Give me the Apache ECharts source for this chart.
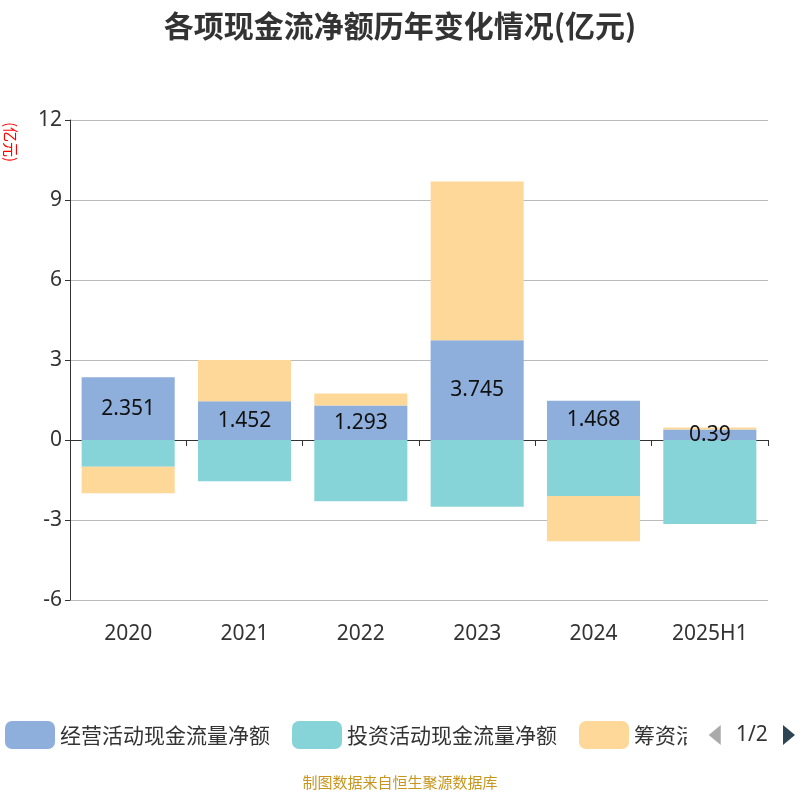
<!DOCTYPE html>
<html><head><meta charset="utf-8">
<script src="https://cdn.jsdelivr.net/npm/echarts@6/dist/echarts.min.js"></script>
<style>html,body{margin:0;padding:0}#c{width:800px;height:800px}</style>
</head><body><div id="c"></div>
<script>
var categories = ['2020','2021','2022','2023','2024','2025H1'];
var operating = [2.351, 1.452, 1.293, 3.745, 1.468, 0.39];
var investing = [-1.0, -1.55, -2.3, -2.5, -2.1, -3.15];
var financing = [-1.0, 1.55, 0.45, 5.95, -1.7, 0.08];
var seriesNames = ['经营活动现金流量净额','投资活动现金流量净额','筹资活动现金流量净额'];
var yTicks = {min:-6, max:12, interval:3};

var chart = echarts.init(document.getElementById('c'));
chart.setOption({
  title:{text:'各项现金流净额历年变化情况(亿元)', left:'center', top:6,
    textStyle:{fontSize:30, fontWeight:'bold', color:'#333', fontFamily:'Noto Sans CJK SC'}},
  grid:{left:70, right:32, top:120, bottom:200},
  legend:{type:'scroll', bottom:46, left:0, right:10, itemWidth:50, itemHeight:28, itemGap:22,
    textStyle:{fontSize:21, color:'#333', fontFamily:'Noto Sans CJK SC'},
    pageTextStyle:{fontSize:21, color:'#333', fontFamily:'Noto Sans'}, pageIconSize:20,
    pageIconColor:'#2f4554', pageIconInactiveColor:'#aaa',
    data:seriesNames},
  graphic:[
    {type:'text', left:'center', bottom:10, style:{text:'制图数据来自恒生聚源数据库', fill:'#c8961e', fontSize:15, fontFamily:'Noto Sans CJK SC'}},
    {type:'text', x:18, y:122, rotation:-Math.PI/2, style:{text:'(亿元)', fill:'red', fontSize:15, fontFamily:'Noto Sans CJK SC'}}
  ],
  xAxis:{type:'category', data:categories,
    axisLine:{onZero:true, lineStyle:{color:'#333'}}, axisTick:{show:true, length:6},
    axisLabel:{fontSize:21, color:'#333', margin:24, interval:0, fontFamily:'Noto Sans'}},
  yAxis:{type:'value', min:yTicks.min, max:yTicks.max, interval:yTicks.interval,
    axisLine:{show:true, lineStyle:{color:'#333'}}, axisTick:{show:true},
    axisLabel:{fontSize:21, color:'#333', fontFamily:'Noto Sans'},
    splitLine:{lineStyle:{color:'#bbb'}}},
  series:[
    {name:seriesNames[0], type:'bar', stack:'a', data:operating, barWidth:'80%',
      itemStyle:{color:'#8eaedb'},
      label:{show:true, position:'inside', color:'#111', fontSize:21, fontFamily:'Noto Sans'}},
    {name:seriesNames[1], type:'bar', stack:'a', data:investing, itemStyle:{color:'#87d4d8'}},
    {name:seriesNames[2], type:'bar', stack:'a', data:financing, itemStyle:{color:'#fed898'}}
  ]
});
</script></body></html>
